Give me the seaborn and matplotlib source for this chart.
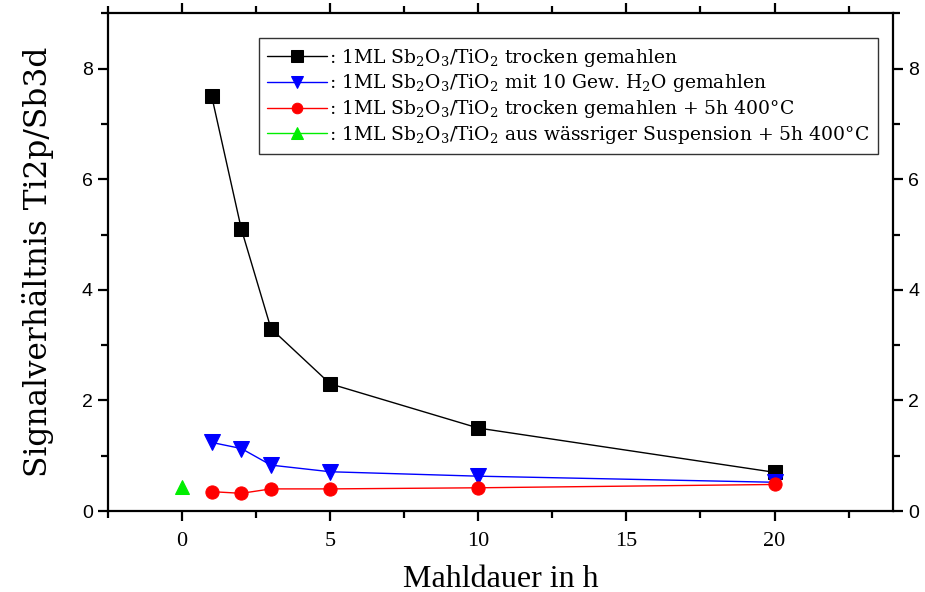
"""Signalverhältnis Ti2p/Sb3d gegen Mahldauer."""

import pandas as pd
import matplotlib
matplotlib.use("Agg")
import matplotlib.pyplot as plt
from matplotlib.ticker import MultipleLocator
import seaborn as sns

# data
hours_dry = [1, 2, 3, 5, 10, 20]
ratio_dry = [7.5, 5.1, 3.3, 2.3, 1.5, 0.70]

hours_wet = [1, 2, 3, 5, 10, 20]
ratio_wet = [1.24, 1.13, 0.83, 0.71, 0.63, 0.52]

hours_dry_calc = [1, 2, 3, 5, 10, 20]
ratio_dry_calc = [0.35, 0.32, 0.40, 0.40, 0.42, 0.48]

hours_susp = [0]
ratio_susp = [0.43]

labels = [
    r": 1ML Sb$_2$O$_3$/TiO$_2$ trocken gemahlen",
    r": 1ML Sb$_2$O$_3$/TiO$_2$ mit 10 Gew. H$_2$O gemahlen",
    r": 1ML Sb$_2$O$_3$/TiO$_2$ trocken gemahlen + 5h 400°C",
    r": 1ML Sb$_2$O$_3$/TiO$_2$ aus wässriger Suspension + 5h 400°C",
]

sns.set_style("ticks")
plt.rcParams["font.family"] = ["DejaVu Serif", "DejaVu Sans"]
plt.rcParams["mathtext.fontset"] = "dejavuserif"
plt.rcParams["text.color"] = "black"
plt.rcParams["axes.labelcolor"] = "black"
plt.rcParams["xtick.color"] = "black"
plt.rcParams["ytick.color"] = "black"
plt.rcParams["axes.edgecolor"] = "black"

series = [
    (hours_dry, ratio_dry, "#000000", "s", 10),
    (hours_wet, ratio_wet, "#0000ff", "v", 11),
    (hours_dry_calc, ratio_dry_calc, "#ff0000", "o", 9.5),
    (hours_susp, ratio_susp, "#00ee00", "^", 10),
]

fig = plt.figure(figsize=(9.25, 5.92), dpi=100)
ax = fig.add_axes([0.1168, 0.1368, 0.9654 - 0.1168, 0.9775 - 0.1368])

for (x, y, color, marker, ms), label in zip(series, labels):
    df = pd.DataFrame({"h": x, "r": y})
    sns.lineplot(data=df, x="h", y="r", ax=ax, color=color, marker=marker,
                 markersize=ms, markeredgecolor=color, linewidth=1.0,
                 label=label)

ax.set_xlim(-2.5, 24)
ax.set_ylim(0, 9)
ax.xaxis.set_major_locator(MultipleLocator(5))
ax.xaxis.set_minor_locator(MultipleLocator(2.5))
ax.yaxis.set_major_locator(MultipleLocator(2))
ax.yaxis.set_minor_locator(MultipleLocator(1))

for side in ["left", "right", "top", "bottom"]:
    ax.spines[side].set_linewidth(1.6)
    ax.spines[side].set_visible(True)

ax.tick_params(which="both", direction="out", width=1.6,
               left=True, right=True, top=True, bottom=True,
               labelleft=True, labelright=True, labelbottom=True, labeltop=False)
ax.tick_params(which="major", length=7)
ax.tick_params(which="minor", length=5)
ax.tick_params(axis="x", which="major", pad=8, labelsize=16,
               labelfontfamily="Liberation Serif")
ax.tick_params(axis="y", which="major", pad=4, labelsize=14,
               labelfontfamily="Liberation Sans")

ax.set_xlabel("Mahldauer in h", fontfamily="Liberation Serif", fontsize=23,
              labelpad=10)
ax.set_ylabel("Signalverhältnis Ti2p/Sb3d", fontfamily="DejaVu Serif",
              fontsize=22.5, labelpad=20)

leg = ax.legend(loc="upper left", bbox_to_anchor=(0.192, 0.95),
                frameon=True, fancybox=False, fontsize=13.5, handlelength=3.2,
                handletextpad=0.1, borderpad=0.45, labelspacing=0.2,
                borderaxespad=0, markerscale=0.8)
leg.get_frame().set_edgecolor("black")
leg.get_frame().set_linewidth(1.0)

fig.savefig("out.png", dpi=100)
plt.close(fig)
